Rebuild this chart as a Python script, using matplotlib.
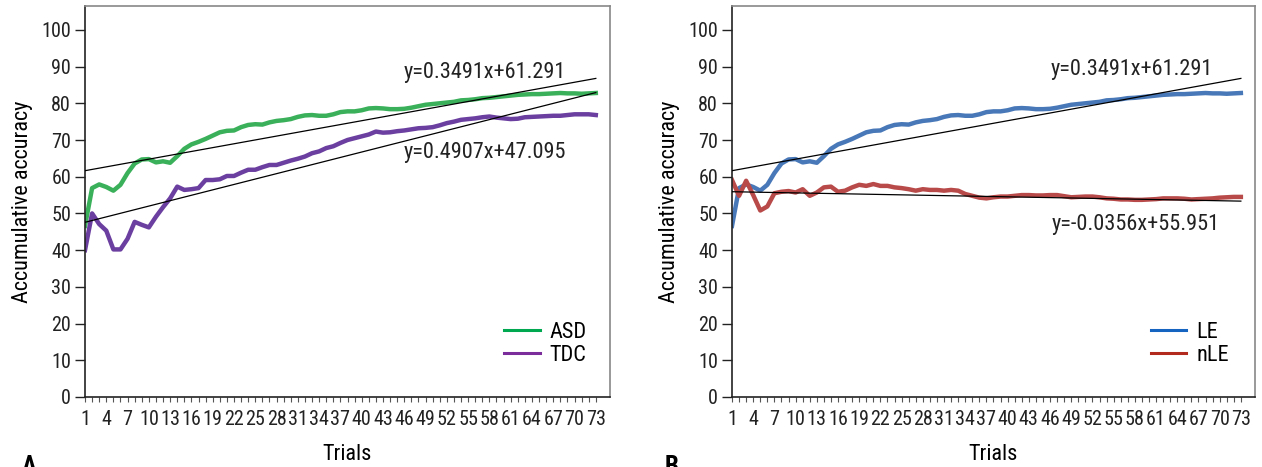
import numpy as np
import matplotlib
matplotlib.use('Agg')
import matplotlib.pyplot as plt
from matplotlib import font_manager as fm
from matplotlib.lines import Line2D

trials = np.arange(1, 74)

asd_acc = [46.6, 56.9, 57.9, 57.2, 56.2, 57.8, 61.0, 63.6, 64.7, 64.8,
           63.9, 64.2, 63.8, 65.6, 67.6, 68.8, 69.5, 70.3, 71.2, 72.1,
           72.5, 72.6, 73.5, 74.1, 74.3, 74.2, 74.8, 75.2, 75.4, 75.7,
           76.3, 76.7, 76.8, 76.6, 76.6, 77.0, 77.6, 77.8, 77.8, 78.1,
           78.6, 78.7, 78.6, 78.4, 78.4, 78.5, 78.8, 79.2, 79.6, 79.8,
           80.0, 80.2, 80.4, 80.8, 80.9, 81.1, 81.4, 81.5, 81.7, 81.9,
           82.1, 82.3, 82.4, 82.5, 82.5, 82.6, 82.7, 82.8, 82.7, 82.7,
           82.6, 82.7, 82.8]

tdc_acc = [40.0, 50.0, 47.1, 45.3, 40.2, 40.2, 43.1, 47.7, 46.9, 46.2,
           49.1, 51.7, 54.1, 57.3, 56.4, 56.6, 56.9, 59.1, 59.1, 59.3,
           60.2, 60.2, 61.1, 61.9, 61.9, 62.6, 63.2, 63.2, 63.8, 64.4,
           64.9, 65.5, 66.4, 66.9, 67.8, 68.3, 69.2, 70.0, 70.5, 71.0,
           71.5, 72.3, 72.0, 72.1, 72.4, 72.6, 72.9, 73.2, 73.3, 73.5,
           74.0, 74.6, 75.0, 75.5, 75.7, 75.9, 76.2, 76.4, 76.1, 75.9,
           75.7, 75.8, 76.2, 76.3, 76.4, 76.5, 76.6, 76.6, 76.8, 77.0,
           77.0, 77.0, 76.8]

le_acc = list(asd_acc)

nle_acc = [59.1, 54.8, 58.9, 55.0, 50.8, 51.9, 55.5, 55.9, 56.1, 55.7,
           56.6, 54.8, 55.7, 57.1, 57.3, 55.9, 56.2, 57.1, 57.8, 57.5,
           58.0, 57.5, 57.5, 57.1, 56.9, 56.6, 56.2, 56.6, 56.4, 56.4,
           56.2, 56.4, 56.2, 55.3, 54.8, 54.3, 54.1, 54.4, 54.6, 54.6,
           54.8, 55.0, 55.0, 54.9, 54.9, 55.0, 55.0, 54.7, 54.4, 54.5,
           54.6, 54.6, 54.4, 54.1, 54.0, 53.8, 53.8, 53.7, 53.7, 53.8,
           53.9, 54.1, 54.1, 54.1, 54.0, 53.8, 53.9, 54.0, 54.1, 54.3,
           54.4, 54.5, 54.5]

# trendline coefficients (slope, intercept) as printed on the chart
fit_asd = (0.3491, 61.291)
fit_tdc = (0.4907, 47.095)
fit_le = (0.3491, 61.291)
fit_nle = (-0.0356, 55.951)


def pick_narrow_font():
    # look for a condensed sans face; the original uses a narrow font
    prefs = ['Liberation Sans Narrow', 'Roboto Condensed', 'Open Sans Condensed',
             'Noto Sans Condensed', 'Noto Sans', 'DejaVu Sans', 'Roboto', 'Open Sans']
    found = {}
    for f in fm.fontManager.ttflist:
        narrow = 'Narrow' in f.name or 'Condensed' in f.name or \
            str(f.stretch) in ('condensed', 'semi-condensed')
        if narrow and f.style == 'normal':
            found.setdefault(f.name, f)
    for p in prefs:
        if p in found:
            return found[p]
    if found:
        return list(found.values())[0]
    return None


narrow = pick_narrow_font()
if narrow is not None:
    plt.rcParams['font.family'] = [narrow.name, 'DejaVu Sans']
    plt.rcParams['font.stretch'] = narrow.stretch
    fs = 16
    tfs = 14.5
    xfs = 14.5
else:
    plt.rcParams['font.family'] = ['DejaVu Sans']
    fs = 13.5
    tfs = 12.5
    xfs = 10


def fit_label(fit):
    return f"y={fit[0]:.4f}x+{fit[1]:.3f}"


def style_axes(ax):
    ax.set_xlim(1, 75)
    ax.set_ylim(0, 106.5)
    ax.set_yticks(range(0, 101, 10))
    ax.set_xticks(range(1, 74, 3))
    ax.set_xticks(trials, minor=True)
    ax.tick_params(axis='y', direction='out', length=7, width=1, pad=3,
                   labelsize=tfs, colors='#222222')
    ax.tick_params(axis='x', which='both', direction='out', length=3.5,
                   width=0.8, pad=6, labelsize=xfs, colors='#555555',
                   labelcolor='#222222')
    for side in ['left', 'bottom']:
        ax.spines[side].set_color('#222222')
        ax.spines[side].set_linewidth(1.2)
    for side in ['top', 'right']:
        ax.spines[side].set_color('#888888')
        ax.spines[side].set_linewidth(1.2)
    ax.set_xlabel('Trials', fontsize=fs, labelpad=11)
    ax.set_ylabel('Accumulative accuracy', fontsize=fs, labelpad=6)


def plot_panel(ax, series, fits, texts):
    for vals, color in series:
        ax.plot(trials, vals, color=color, lw=3.2, solid_joinstyle='round',
                zorder=2)
    for fit in fits:
        ax.plot(trials, np.polyval(fit, trials), color='black', lw=0.9,
                zorder=3)
    for fit, (tx, ty) in texts:
        ax.text(tx, ty, fit_label(fit), ha='center', va='center',
                fontsize=fs, color='#222222')


fig = plt.figure(figsize=(12.62, 4.67), dpi=100)
ax1 = fig.add_axes([85 / 1262, 70 / 467, 525 / 1262, 391 / 467])
ax2 = fig.add_axes([732 / 1262, 70 / 467, 523 / 1262, 391 / 467])

plot_panel(ax1,
           [(asd_acc, '#3AB05A'), (tdc_acc, '#6B3FA0')],
           [fit_asd, fit_tdc],
           [(fit_asd, (57.3, 88.3)), (fit_tdc, (57.3, 66.7))])
plot_panel(ax2,
           [(le_acc, '#4878B8'), (nle_acc, '#B94A4A')],
           [fit_le, fit_nle],
           [(fit_le, (57.5, 89.1)), (fit_nle, (58.1, 47.1))])

for ax in (ax1, ax2):
    style_axes(ax)

h1 = [Line2D([], [], color='#00A84F', lw=2.2), Line2D([], [], color='#7B2D9C', lw=2.2)]
ax1.legend(h1, ['ASD', 'TDC'], loc='upper left', bbox_to_anchor=(0.798, 0.192),
           frameon=False, fontsize=fs, handlelength=1.6, handletextpad=0.45,
           labelspacing=0.1, borderpad=0, borderaxespad=0)
h2 = [Line2D([], [], color='#1565C0', lw=2.2), Line2D([], [], color='#B22A1E', lw=2.2)]
ax2.legend(h2, ['LE', 'nLE'], loc='upper left', bbox_to_anchor=(0.801, 0.192),
           frameon=False, fontsize=fs, handlelength=1.6, handletextpad=0.45,
           labelspacing=0.1, borderpad=0, borderaxespad=0)

fig.text(22 / 1262, 12 / 467, 'A', fontsize=18, fontweight='bold', va='top')
fig.text(665 / 1262, 12 / 467, 'B', fontsize=18, fontweight='bold', va='top')

fig.savefig('out.png', dpi=100)
